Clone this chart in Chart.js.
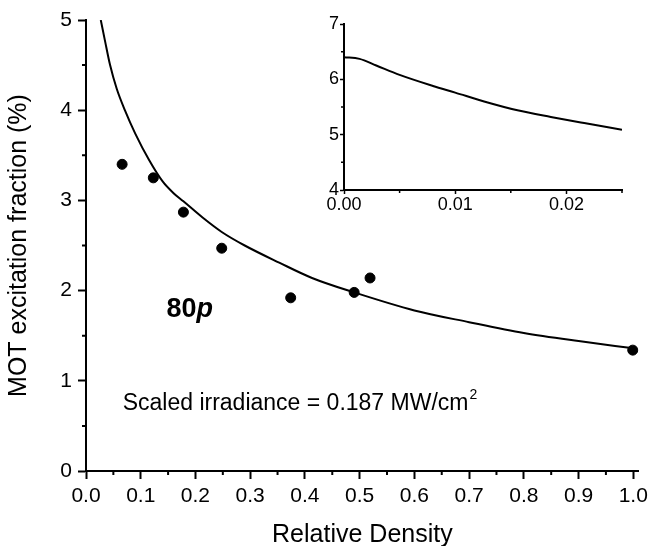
<!DOCTYPE html>
<html lang="en">
<head>
<meta charset="UTF-8">
<title>MOT excitation fraction vs relative density</title>
<script src="https://cdn.jsdelivr.net/npm/chart.js"></script>
<style>
  body { margin: 0; background: #fff; }
  #wrap { position: relative; width: 653px; height: 546px; }
  #mainChart { position: absolute; left: 0; top: 0; }
  #insetChart { position: absolute; left: 300px; top: 0; }
</style>
</head>
<body>
<div id="wrap">
  <canvas id="mainChart" width="653" height="546"></canvas>
  <canvas id="insetChart" width="340" height="222"></canvas>
</div>
<script>
// measured points (80p)
const densityPts  = [0.066, 0.123, 0.178, 0.248, 0.374, 0.490, 0.519, 0.999];
const fractionPts = [3.40, 3.25, 2.87, 2.47, 1.92, 1.98, 2.14, 1.34];

// fit curve, main panel
const fitDensity  = [0.027, 0.035, 0.044, 0.056, 0.071, 0.090, 0.115, 0.140, 0.160, 0.178, 0.213, 0.248, 0.290, 0.353, 0.413, 0.490, 0.600, 0.700, 0.800, 0.900, 1.000];
const fitFraction = [5.00, 4.76, 4.50, 4.24, 4.00, 3.74, 3.45, 3.21, 3.08, 2.99, 2.81, 2.65, 2.50, 2.31, 2.14, 1.98, 1.78, 1.65, 1.53, 1.44, 1.36];

// fit curve, inset (low density)
const insetDensity  = [0.0, 0.0014, 0.0029, 0.0050, 0.0080, 0.0100, 0.0126, 0.0156, 0.0186, 0.0216, 0.0250];
const insetFraction = [6.40, 6.37, 6.25, 6.08, 5.88, 5.76, 5.60, 5.44, 5.32, 5.21, 5.09];

// axis ticks
const mainXTicks  = [0, 0.1, 0.2, 0.3, 0.4, 0.5, 0.6, 0.7, 0.8, 0.9, 1.0];
const mainXMinor  = [0.05, 0.15, 0.25, 0.35, 0.45, 0.55, 0.65, 0.75, 0.85, 0.95];
const mainYTicks  = [0, 1, 2, 3, 4, 5];
const mainYMinor  = [0.5, 1.5, 2.5, 3.5, 4.5];
const insetXTicks = [0, 0.01, 0.02];
const insetXMinor = [0.005, 0.015, 0.025];
const insetYTicks = [4, 5, 6, 7];
const insetYMinor = [4.5, 5.5, 6.5];

const FONT = 'Arial, "Liberation Sans", sans-serif';
Chart.defaults.font.family = FONT;
Chart.defaults.color = '#000';

function toXY(xs, ys) {
  return xs.map((x, i) => ({ x: x, y: ys[i] }));
}

// Chart.js has no minor ticks, draw the short ones here
function minorTicks(xMinor, yMinor, len, width) {
  return {
    id: 'minorTicks',
    afterDraw(chart) {
      const ctx = chart.ctx, x = chart.scales.x, y = chart.scales.y;
      ctx.save();
      ctx.strokeStyle = '#000';
      ctx.lineWidth = width;
      ctx.beginPath();
      xMinor.forEach(v => {
        const p = x.getPixelForValue(v);
        ctx.moveTo(p, chart.chartArea.bottom);
        ctx.lineTo(p, chart.chartArea.bottom + len);
      });
      yMinor.forEach(v => {
        const p = y.getPixelForValue(v);
        ctx.moveTo(chart.chartArea.left, p);
        ctx.lineTo(chart.chartArea.left - len, p);
      });
      ctx.stroke();
      ctx.restore();
    }
  };
}

const labels = {
  id: 'labels',
  afterDraw(chart) {
    const ctx = chart.ctx, x = chart.scales.x, y = chart.scales.y;
    ctx.save();
    ctx.fillStyle = '#000';
    ctx.textAlign = 'left';
    ctx.textBaseline = 'alphabetic';

    // "80p"
    let px = x.getPixelForValue(0.147), py = y.getPixelForValue(1.71);
    ctx.font = 'bold 27px ' + FONT;
    ctx.fillText('80', px, py);
    const w80 = ctx.measureText('80').width;
    ctx.font = 'italic bold 27px ' + FONT;
    ctx.fillText('p', px + w80, py);

    // irradiance note
    px = x.getPixelForValue(0.067);
    py = y.getPixelForValue(0.673);
    ctx.font = '23px ' + FONT;
    const txt = 'Scaled irradiance = 0.187 MW/cm';
    ctx.fillText(txt, px, py);
    const wt = ctx.measureText(txt).width;
    ctx.font = '14px ' + FONT;
    ctx.fillText('2', px + wt + 1, py - 11);
    ctx.restore();
  }
};

new Chart(document.getElementById('mainChart'), {
  type: 'scatter',
  data: {
    datasets: [
      {
        label: 'fit',
        data: toXY(fitDensity, fitFraction),
        showLine: true,
        borderColor: '#000',
        borderWidth: 2,
        pointRadius: 0,
        cubicInterpolationMode: 'monotone',
        fill: false
      },
      {
        label: '80p',
        data: toXY(densityPts, fractionPts),
        showLine: false,
        backgroundColor: '#000',
        borderColor: '#000',
        pointRadius: 5
      }
    ]
  },
  options: {
    responsive: false,
    animation: false,
    layout: { padding: { left: 0, right: 12, top: 20, bottom: 0 } },
    plugins: { legend: { display: false }, tooltip: { enabled: false } },
    scales: {
      x: {
        type: 'linear',
        min: 0,
        max: 1.01,
        afterBuildTicks: s => { s.ticks = mainXTicks.map(v => ({ value: v })); },
        afterFit: s => { s.height = 75; },
        ticks: { callback: v => v.toFixed(1), font: { size: 21 }, padding: 5, maxRotation: 0, autoSkip: false },
        grid: { drawOnChartArea: false, tickLength: 8, tickWidth: 2, tickColor: '#000' },
        border: { color: '#000', width: 2 },
        title: { display: true, text: 'Relative Density', font: { size: 25, lineHeight: 1 }, padding: { top: 0, bottom: -2 } }
      },
      y: {
        type: 'linear',
        min: 0,
        max: 5,
        afterBuildTicks: s => { s.ticks = mainYTicks.map(v => ({ value: v })); },
        afterFit: s => { s.width = 86; },
        ticks: { callback: v => String(v), font: { size: 21 }, padding: 6 },
        grid: { drawOnChartArea: false, tickLength: 8, tickWidth: 2, tickColor: '#000' },
        border: { color: '#000', width: 2 },
        title: { display: true, text: 'MOT excitation fraction (%)', font: { size: 25 }, padding: { top: 4, bottom: 0 } }
      }
    }
  },
  plugins: [minorTicks(mainXMinor, mainYMinor, 4, 2), labels]
});

new Chart(document.getElementById('insetChart'), {
  type: 'scatter',
  data: {
    datasets: [{
      label: 'fit',
      data: toXY(insetDensity, insetFraction),
      showLine: true,
      borderColor: '#000',
      borderWidth: 2,
      pointRadius: 0,
      cubicInterpolationMode: 'monotone',
      fill: false
    }]
  },
  options: {
    responsive: false,
    animation: false,
    layout: { padding: { left: 0, right: 18, top: 24, bottom: 0 } },
    plugins: { legend: { display: false }, tooltip: { enabled: false } },
    scales: {
      x: {
        type: 'linear',
        min: 0,
        max: 0.025,
        afterBuildTicks: s => { s.ticks = insetXTicks.map(v => ({ value: v })); },
        afterFit: s => { s.height = 32; },
        ticks: { callback: v => v.toFixed(2), font: { size: 18 }, padding: 0, maxRotation: 0, autoSkip: false },
        grid: { drawOnChartArea: false, tickLength: 4, tickWidth: 1.5, tickColor: '#000' },
        border: { color: '#000', width: 2 }
      },
      y: {
        type: 'linear',
        min: 4,
        max: 7,
        afterBuildTicks: s => { s.ticks = insetYTicks.map(v => ({ value: v })); },
        afterFit: s => { s.width = 44; },
        ticks: { callback: v => String(v), font: { size: 18 }, padding: 1 },
        grid: { drawOnChartArea: false, tickLength: 4, tickWidth: 1.5, tickColor: '#000' },
        border: { color: '#000', width: 2 }
      }
    }
  },
  plugins: [minorTicks(insetXMinor, insetYMinor, 3, 1.5)]
});
</script>
</body>
</html>
